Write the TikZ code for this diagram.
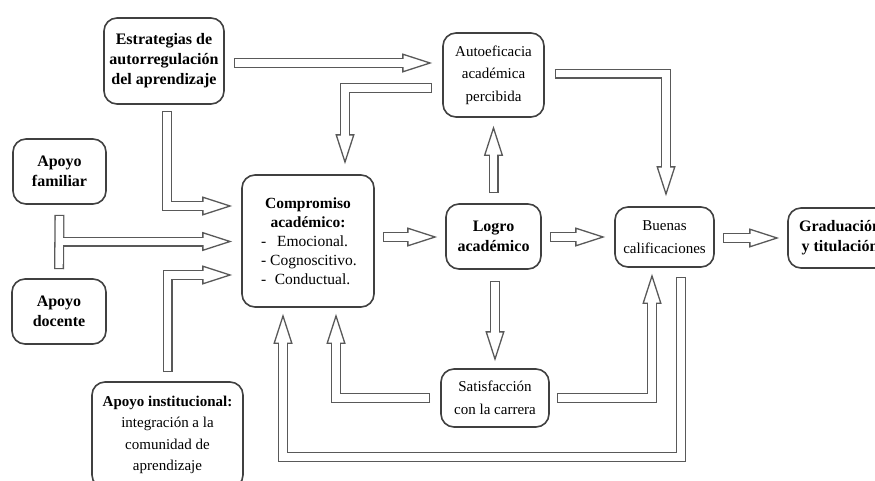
\documentclass[tikz,border=0pt]{standalone}
\usepackage{fontspec}
\setmainfont{Liberation Serif}
\usetikzlibrary{arrows.meta,calc}
\begin{document}
\begin{tikzpicture}[x=1pt,y=-1pt,
  box/.style={draw=black!75, line width=1.6pt, rounded corners=13pt, inner sep=0pt, align=center, text=black},
  bf/.style={font=\fontsize{16}{20}\selectfont\bfseries},
  rg/.style={font=\fontsize{15}{22.5}\selectfont},
  barrow/.style={draw=black!65, line width=1.3pt, -{Triangle[length=30pt,width=19pt,fill=white]},
     preaction={draw=black!65, line width=10pt, -, shorten >=27pt},
     postaction={draw=white, line width=7.4pt, -, shorten >=26pt, shorten <=1.3pt}},
  outerbar/.style={draw=black!65, line width=10pt},
  innerbar/.style={draw=white, line width=7.4pt, shorten >=1.3pt, shorten <=1.3pt},
]
\useasboundingbox (0,0) rectangle (875,480);

\node[box,bf,minimum width=120pt,minimum height=86pt] (est) at (164,61) {Estrategias de\\autorregulación\\del aprendizaje};
\node[box,rg,minimum width=101pt,minimum height=84pt] (auto) at (493.5,75) {Autoeficacia\\académica\\percibida};
\node[box,bf,minimum width=93pt,minimum height=65pt] (fam) at (59.5,171.5) {Apoyo\\familiar};
\node[box,bf,minimum width=94pt,minimum height=65pt] (doc) at (59,311.5) {Apoyo\\docente};
\node[box,font=\fontsize{15.5}{19}\selectfont,minimum width=132pt,minimum height=132pt] (comp) at (308,241)
  {\textbf{Compromiso}\\\textbf{académico:}\\\hbox to 94pt{-\hskip4pt\hfil Emocional.\hfil}\\\hbox to 94pt{-\hskip4pt\hfil Cognoscitivo.\hfil}\\\hbox to 94pt{-\hskip4pt\hfil Conductual.\hfil}};
\node[box,font=\fontsize{15}{21.5}\selectfont,minimum width=151pt,minimum height=106pt] (inst) at (167.5,435)
  {\textbf{Apoyo institucional:}\\integración a la\\comunidad de\\aprendizaje};
\node[box,bf,minimum width=95pt,minimum height=65pt] (logro) at (493.5,236.5) {Logro\\académico};
\node[box,rg,minimum width=99pt,minimum height=60pt] (buenas) at (664.5,237) {Buenas\\calificaciones};
\node[box,bf,minimum width=104pt,minimum height=60pt] (grad) at (840,238) {Graduación\\y titulación};
\node[box,rg,minimum width=108pt,minimum height=58pt] (sat) at (495,398) {Satisfacción\\con la carrera};

% arrows
\draw[barrow] ($(est.east)+(9,2)$) -- ($(auto.west)+(-10,-12)$);
\draw[barrow] ($(auto.west)+(-10,13)$) -| ($(comp.north)+(37,-10)$);
\draw[barrow] ($(est.south)+(3,6)$) |- ($(comp.west)+(-9,-35)$);

\coordinate (tj) at ($(fam.south)!0.5!(doc.north)$);
\coordinate (cin) at ($(comp.west)+(-9,0)$);
\draw[outerbar] ($(fam.south)+(0,10)$) -- ($(doc.north)+(0,-9)$);
\draw[barrow] (tj) -- (tj -| cin);
\draw[innerbar] ($(fam.south)+(0,10)$) -- ($(doc.north)+(0,-9)$);

\draw[barrow] ($(inst.north)+(0,-9)$) |- ($(comp.west)+(-9,34)$);
\draw[barrow] ($(comp.east)+(8,-4)$) -- ($(logro.west)+(-8,0.5)$);
\draw[barrow] ($(logro.north)+(0,-10)$) -- ($(auto.south)+(0,8)$);
\draw[barrow] ($(logro.east)+(8,0.5)$) -- ($(buenas.west)+(-9,0)$);
\draw[barrow] ($(buenas.east)+(8,1)$) -- ($(grad.west)+(-8,0)$);
\draw[barrow] ($(auto.east)+(10,-1.5)$) -| ($(buenas.north)+(1.5,-10)$);
\draw[barrow] ($(logro.south)+(1.5,11)$) -- ($(sat.north)+(0,-7)$);
\draw[barrow] ($(sat.east)+(7,0)$) -| ($(buenas.south)+(-12.5,6)$);
\draw[barrow] ($(sat.west)+(-10,0)$) -| ($(comp.south)+(28,6)$);
\draw[barrow] ($(buenas.south)+(16.5,9)$) |- ($(comp.south)+(-25,149)$) -- ($(comp.south)+(-25,6)$);
\end{tikzpicture}
\end{document}
